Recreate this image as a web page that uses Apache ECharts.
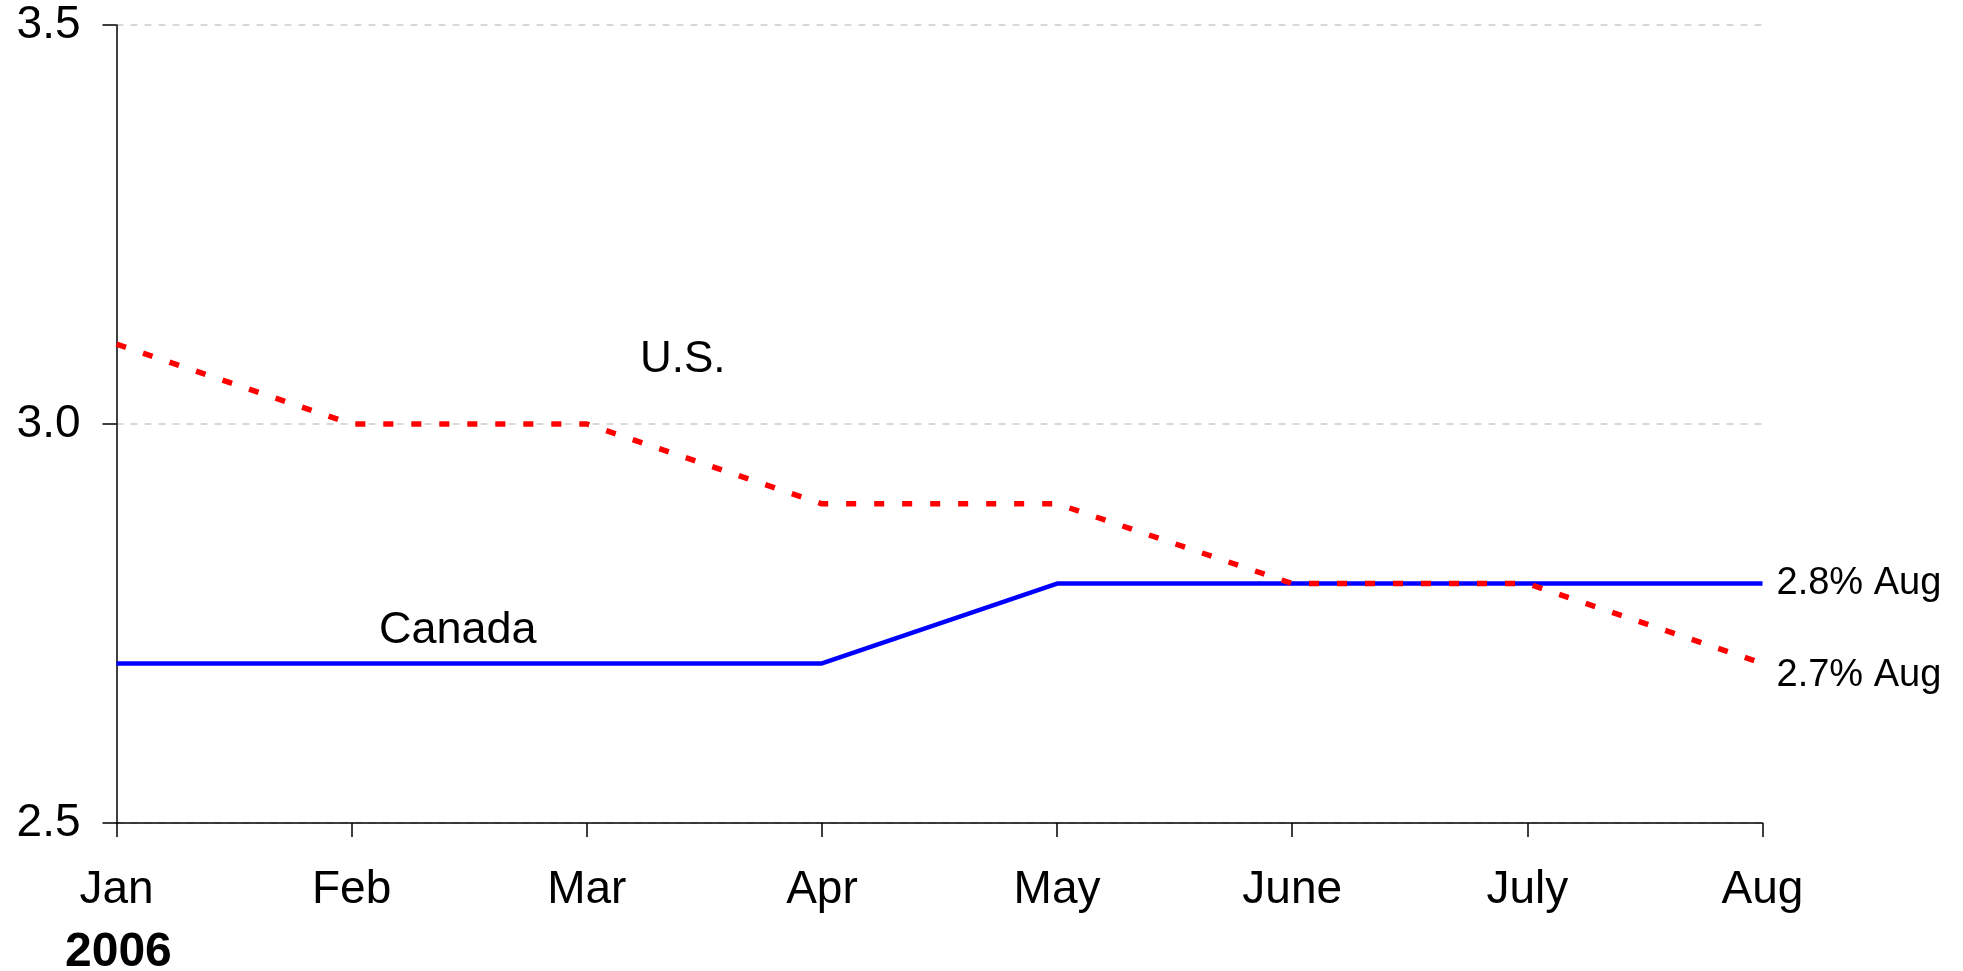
<!DOCTYPE html>
<html>
<head>
<meta charset="utf-8">
<script src="https://cdn.jsdelivr.net/npm/echarts@6/dist/echarts.min.js"></script>
<style>
html,body{margin:0;padding:0;background:#fff;}
#chart{width:1963px;height:971px;}
</style>
</head>
<body>
<div id="chart"></div>
<script>
const categories = ['Jan','Feb','Mar','Apr','May','June','July','Aug'];
const usValues = [3.1, 3.0, 3.0, 2.9, 2.9, 2.8, 2.8, 2.7];
const canadaValues = [2.7, 2.7, 2.7, 2.7, 2.8, 2.8, 2.8, 2.8];
const yearLabel = '2006';
const seriesNames = ['U.S.', 'Canada'];

const FONT = '"Liberation Sans", Arial, sans-serif';
const chart = echarts.init(document.getElementById('chart'));

function endFmt(p){ return p.value.toFixed(1) + '% ' + categories[p.dataIndex]; }

chart.setOption({
  animation: false,
  backgroundColor: '#ffffff',
  grid: {left: 116.5, right: 200.5, top: 25, bottom: 148, containLabel: false},
  xAxis: {
    type: 'category',
    data: categories,
    boundaryGap: false,
    axisLine: {lineStyle: {color: '#000', width: 1.5}},
    axisTick: {show: true, length: 14, inside: false, lineStyle: {color: '#000', width: 1.5}},
    axisLabel: {color: '#000', fontFamily: FONT, fontSize: 46, margin: 44},
    splitLine: {show: false}
  },
  yAxis: {
    type: 'value',
    min: 2.5, max: 3.5, interval: 0.5,
    axisLine: {show: true, lineStyle: {color: '#000', width: 1.5}},
    axisTick: {show: true, length: 14, lineStyle: {color: '#000', width: 1.5}},
    axisLabel: {color: '#000', fontFamily: FONT, fontSize: 46, margin: 36,
      formatter: v => v.toFixed(1)},
    splitLine: {show: true, lineStyle: {color: '#cccccc', width: 1.5, type: [7, 7]}}
  },
  series: [
    {
      name: seriesNames[0], type: 'line', data: usValues,
      showSymbol: false, symbol: 'none',
      lineStyle: {color: '#ff0000', width: 5.5, type: [10, 18]},
      endLabel: {show: true, formatter: endFmt, color: '#000', fontFamily: FONT, fontSize: 38, distance: 14, offset: [0, 12]},
      z: 3
    },
    {
      name: seriesNames[1], type: 'line', data: canadaValues,
      showSymbol: false, symbol: 'none',
      lineStyle: {color: '#0000ff', width: 4.5},
      endLabel: {show: true, formatter: endFmt, color: '#000', fontFamily: FONT, fontSize: 38, distance: 14},
      z: 2
    }
  ],
  graphic: [
    {type: 'text', left: 640, top: 338, style: {text: seriesNames[0], font: '44px ' + FONT, fill: '#000'}},
    {type: 'text', left: 379, top: 608, style: {text: seriesNames[1], font: '45px ' + FONT, fill: '#000'}},
    {type: 'text', left: 65, top: 929, style: {text: yearLabel, font: 'bold 48px ' + FONT, fill: '#000'}}
  ]
});
</script>
</body>
</html>
